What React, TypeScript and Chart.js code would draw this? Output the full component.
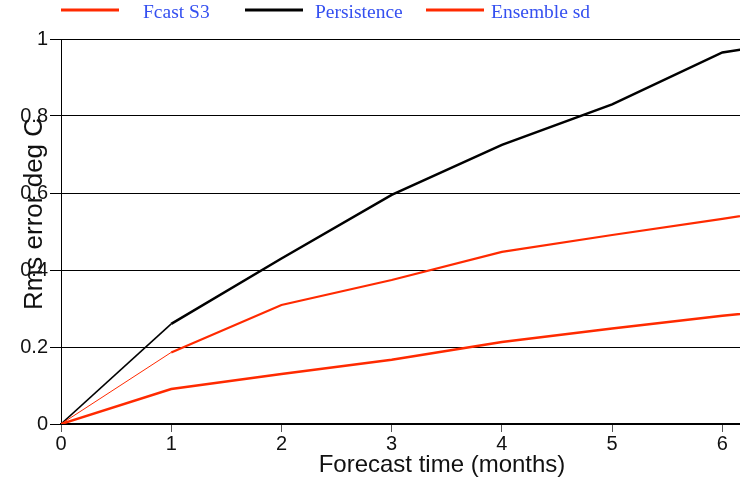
import React, { useEffect, useRef } from "react";
import { Chart, registerables } from "chart.js";

Chart.register(...registerables);

const months = [0, 1, 2, 3, 4, 5, 6, 7];
const fcastS3 = [0, 0.186, 0.309, 0.374, 0.447, 0.491, 0.533, 0.575];
const persistence = [0, 0.26, 0.43, 0.595, 0.725, 0.83, 0.965, 1.01];
const ensembleSd = [0, 0.091, 0.13, 0.167, 0.213, 0.248, 0.281, 0.31];
const seriesLabels = ["Fcast S3", "Persistence", "Ensemble sd"];
const seriesColors = ["#ff2a00", "#000000", "#ff2a00"];
const xTicks = [0, 1, 2, 3, 4, 5, 6];
const yTitle = "Rms error deg C";
const xTitle = "Forecast time (months)";

const legendX = [61, 245, 426];

const overlayPlugin = {
  id: "overlay",
  afterDraw(chart: any) {
    const ctx = chart.ctx;
    ctx.save();
    // legend
    seriesLabels.forEach((lab, i) => {
      const x0 = legendX[i];
      ctx.strokeStyle = seriesColors[i];
      ctx.lineWidth = 3;
      ctx.beginPath();
      ctx.moveTo(x0, 10);
      ctx.lineTo(x0 + 58, 10);
      ctx.stroke();
      ctx.fillStyle = "#3550f0";
      ctx.font = "19.5px 'Liberation Serif', 'Times New Roman', serif";
      ctx.textAlign = "left";
      ctx.textBaseline = "alphabetic";
      ctx.fillText(lab, x0 + (i === 0 ? 82 : i === 1 ? 70 : 65), 18);
    });
    // x title
    ctx.fillStyle = "#111";
    ctx.font = "24px 'Liberation Sans', Arial, sans-serif";
    ctx.textAlign = "center";
    ctx.fillText(xTitle, 442, 472);
    // y title
    ctx.translate(42, 214);
    ctx.rotate(-Math.PI / 2);
    ctx.font = "26px 'Liberation Sans', Arial, sans-serif";
    ctx.textAlign = "center";
    ctx.fillText(yTitle, 0, 0);
    ctx.restore();
  },
};

export default function App() {
  const ref = useRef<HTMLCanvasElement>(null);
  useEffect(() => {
    const toPts = (ys: number[]) => months.map((m, i) => ({ x: m, y: ys[i] }));
    const chart = new Chart(ref.current!, {
      type: "line",
      data: {
        datasets: [
          {
            label: seriesLabels[2],
            data: toPts(ensembleSd),
            borderColor: seriesColors[2],
            borderWidth: 2.5,
            pointRadius: 0,
            tension: 0,
          },
          {
            label: seriesLabels[0],
            data: toPts(fcastS3),
            borderColor: seriesColors[0],
            borderWidth: 2.2,
            pointRadius: 0,
            tension: 0,
            segment: {
              borderWidth: (c: any) => (c.p0DataIndex === 0 ? 1 : 2.2),
            },
          },
          {
            label: seriesLabels[1],
            data: toPts(persistence),
            borderColor: seriesColors[1],
            borderWidth: 2.5,
            pointRadius: 0,
            tension: 0,
            segment: {
              borderWidth: (c: any) => (c.p0DataIndex === 0 ? 1.6 : 2.5),
            },
          },
        ],
      },
      options: {
        animation: false,
        responsive: false,
        layout: { padding: { top: 39, left: 0, right: 0, bottom: 0 } },
        plugins: {
          legend: { display: false },
          tooltip: { enabled: false },
        },
        scales: {
          x: {
            type: "linear",
            min: 0,
            max: 6.16,
            afterBuildTicks: (s: any) => {
              s.ticks = xTicks.map((v) => ({ value: v }));
            },
            afterFit: (s: any) => {
              s.height = 56;
            },
            ticks: {
              font: { family: "'Liberation Sans', Arial, sans-serif", size: 20 },
              color: "#111",
              padding: 0,
              maxRotation: 0,
              autoSkip: false,
            },
            grid: {
              drawOnChartArea: false,
              drawTicks: true,
              tickLength: 8,
              color: "#555",
            },
            border: { display: true, color: "#000", width: 1.5 },
          },
          y: {
            min: 0,
            max: 1,
            ticks: {
              stepSize: 0.2,
              font: { family: "'Liberation Sans', Arial, sans-serif", size: 20 },
              color: "#111",
              padding: 2,
              callback: (v: any) => String(Math.round(Number(v) * 10) / 10),
            },
            afterFit: (s: any) => {
              s.width = 61;
            },
            grid: {
              color: "#000",
              lineWidth: 1,
              tickLength: 11,
            },
            border: { display: true, color: "#000", width: 1 },
          },
        },
      },
      plugins: [overlayPlugin],
    });
    return () => chart.destroy();
  }, []);
  return (
    <div style={{ position: "fixed", left: 0, top: 0, width: 740, height: 480, background: "#fff" }}>
      <canvas ref={ref} width={740} height={480} />
    </div>
  );
}
